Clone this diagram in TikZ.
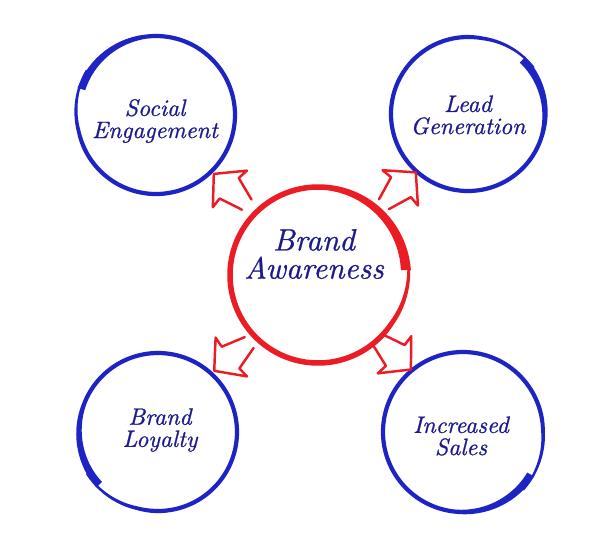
\documentclass[tikz,border=0pt]{standalone}
\usepackage{fontspec}
\usetikzlibrary{calc}
\newfontfamily\handfont{lmroman10-italic.otf}[FakeBold=0.8]
\definecolor{ringblue}{RGB}{30,36,196}
\definecolor{ringred}{RGB}{236,28,36}
\definecolor{inkblue}{RGB}{28,26,140}
% #1 cx, #2 cy, #3 r, #4 start angle, #5 sweep, #6 base width, #7 thick width, #8 colour, #9 thick fraction
\newcommand\handring[9]{%
  \def\hw{(0.5*(#6+(#7-#6)*max(0,1-\x/#9)-0.55*#6*max(0,(\x-0.85)/0.15)))}%
  \def\hr{(#3+3.5*max(0,(\x-0.88)/0.12))}%
  \fill[#8] plot[domain=0:1,samples=240] ({#1+(\hr+\hw)*cos(#4+(#5)*\x)},{#2-(\hr+\hw)*sin(#4+(#5)*\x)})
     -- plot[domain=1:0,samples=240] ({#1+(\hr-\hw)*cos(#4+(#5)*\x)},{#2-(\hr-\hw)*sin(#4+(#5)*\x)}) -- cycle;}
\newcommand\blockarr[2]{%
  \draw[blockarrow, shift={(#1)}, rotate=#2] (0,-7) -- (24,-14) -- (23,-25) -- (45,0) -- (23,25) -- (24,14) -- (0,7);}
\tikzset{
  blockarrow/.style={draw=ringred, line width=1.4pt, line join=round, line cap=round},
  ring/.style={circle, inner sep=0pt, draw=none, minimum size=#1},
  lbl/.style={font=\handfont\fontsize{13.5}{12.6}\selectfont, text=inkblue, align=center, inner sep=0pt},
  hublbl/.style={font=\handfont\fontsize{17.5}{16}\selectfont, text=inkblue, align=center, inner sep=0pt}
}
\begin{document}
\begin{tikzpicture}[x=0.02cm,y=-0.02cm]
\fill[white] (0,0) rectangle (600,556);
\useasboundingbox (0,0) rectangle (600,556);
% circle nodes
\node[ring=3.52cm] (ba) at (318,275) {};
\node[ring=3.16cm] (se) at (156,115) {};
\node[ring=3.08cm] (lg) at (468,114) {};
\node[ring=3.16cm] (bl) at (158,432) {};
\node[ring=3.2cm]  (is) at (463,432) {};
% hand-drawn rings
\handring{318}{275}{88}{3}{368}{5.5}{10}{ringred}{0.22}
\handring{156}{115}{79}{161}{-374}{4.2}{8}{ringblue}{0.17}
\handring{468}{114}{77}{45}{-370}{4.2}{8}{ringblue}{0.17}
\handring{158}{432}{79}{222}{-372}{4.2}{8}{ringblue}{0.17}
\handring{463}{432}{80}{-32}{-372}{4.2}{8}{ringblue}{0.17}
% labels
\node[hublbl] (baT) at (314,254) {Brand\\Awareness};
\node[lbl] (seT) at (155,121) {Social\\Engagement};
\node[lbl] (lgT) at (468,115) {Lead\\Generation};
\node[lbl] (blT) at (160,430) {Brand\\Loyalty};
\node[lbl] (isT) at (461,436) {Increased\\Sales};
% arrow bases
\coordinate (aNW) at ($(ba)!0.44!(se)$);
\coordinate (aNE) at ($(ba)!0.44!(lg)$);
\coordinate (aSW) at ($(ba)!0.43!(bl)$);
\coordinate (aSE) at ($(ba)!0.41!(is)$);
\blockarr{aNW}{137}
\blockarr{aNE}{45}
\blockarr{aSW}{219}
\blockarr{aSE}{-42}
\end{tikzpicture}
\end{document}
